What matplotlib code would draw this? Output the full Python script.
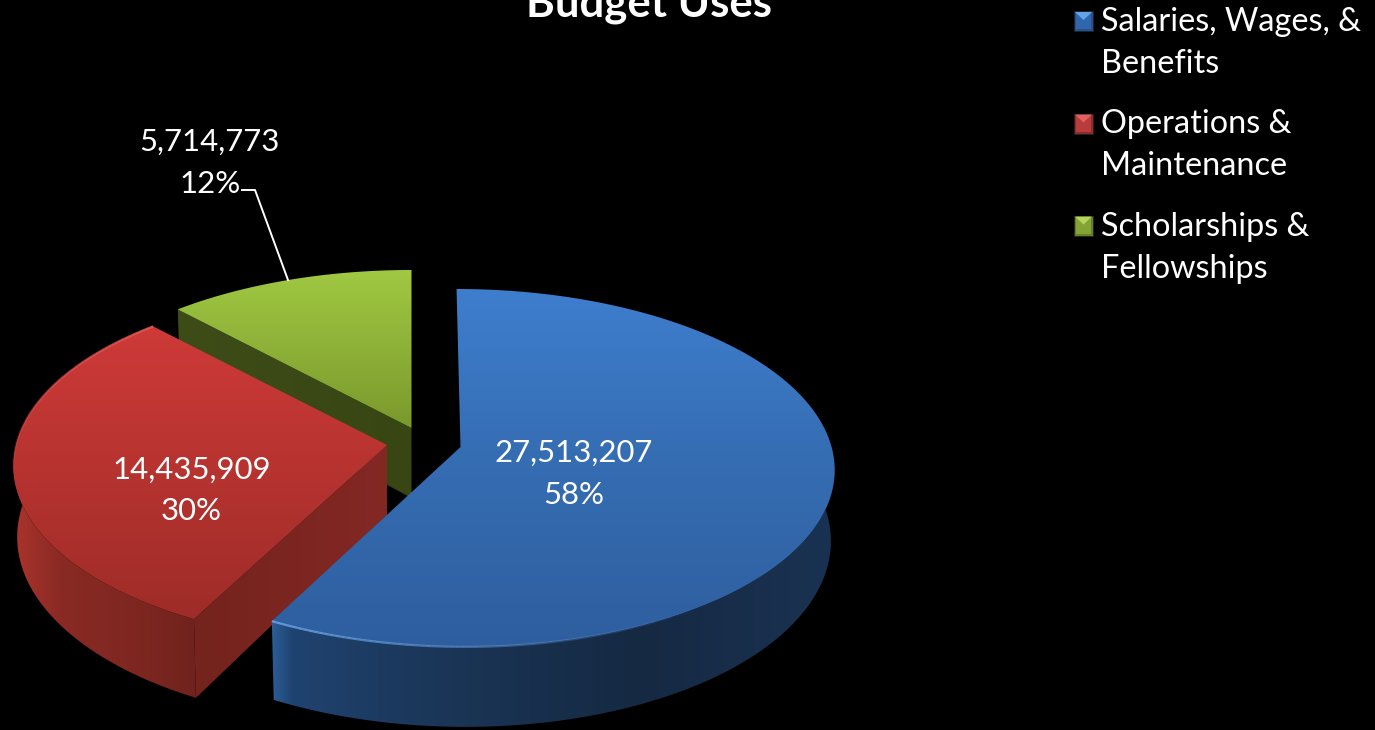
import matplotlib
matplotlib.use("Agg")
import matplotlib.pyplot as plt
import numpy as np
from matplotlib.collections import LineCollection
from matplotlib.patches import Polygon

plt.rcParams['font.family'] = ['Lato', 'DejaVu Sans']

title = 'Budget Uses'
categories = ['Salaries, Wages, &\nBenefits', 'Operations &\nMaintenance', 'Scholarships &\nFellowships']
values = [27513207, 14435909, 5714773]

#apex of each exploded slice on the canvas, and a slight sideways lean
apex_x = [460.5, 387, 411.5]
apex_y = [447, 445, 428]
lean = [0.025, 0, 0]

#tilted disc: radii, perspective strength, and how the lower face is scaled/shifted
rx, ry, persp = 371, 176.5, 0.117
low_sx, low_sy, low_dy = 0.99, 1.05, 70

#gradient stops for each slice (position, rgb)
top_colors = [
    [(289, (62, 126, 206)), (450, (54, 110, 180)), (650, (46, 94, 158))],
    [(327, (206, 58, 56)), (620, (158, 44, 40))],
    [(272, (160, 200, 66)), (430, (122, 152, 44))],
]
side_colors = [
    [(272, (42, 92, 150)), (292, (31, 67, 112)), (420, (27, 55, 90)), (640, (21, 41, 66)), (830, (26, 50, 82))],
    [(14, (170, 52, 44)), (60, (138, 42, 36)), (150, (124, 38, 32)), (200, (112, 34, 28))],
    [(180, (60, 74, 22)), (415, (60, 74, 22))],
]
cut_colors = [
    None,
    [(190, (116, 35, 29)), (390, (132, 40, 36))],
    [(175, (62, 76, 24)), (415, (56, 70, 20))],
]
rim_color = [(110, 165, 235), (235, 95, 90), (180, 215, 90)]
legend_dark = ['#24528f', '#8f2b2a', '#63802a']
legend_mid = ['#2f66ad', '#b83c3b', '#83a336']
legend_light = ['#62a4e6', '#e2605c', '#b4d65c']


def project(angle, cx, cy, shear=0, lower=False):
    #clockwise angle from 12 o'clock on the unit disc -> canvas pixels
    x = np.sin(angle)
    y = np.cos(angle)
    s = 1 / (1 + persp * y)
    py = -ry * y * s
    px = rx * x * s + shear * py
    if lower:
        return cx + low_sx * px, cy + low_dy + low_sy * py
    return cx + px, cy + py


def gradient_fill(ax, xs, ys, stops, vertical=True, zorder=1):
    pos = np.array([p for p, c in stops], dtype=float)
    cols = np.array([c for p, c in stops], dtype=float) / 255
    if vertical:
        lo, hi = ys.min(), ys.max()
    else:
        lo, hi = xs.min(), xs.max()
    t = np.linspace(lo, hi, 256)
    rgb = np.stack([np.interp(t, pos, cols[:, i]) for i in range(3)], axis=-1)
    rgb = rgb[:, None, :] if vertical else rgb[None, :, :]
    im = ax.imshow(rgb, extent=(xs.min(), xs.max(), ys.max(), ys.min()),
                   aspect='auto', interpolation='bilinear', zorder=zorder)
    patch = Polygon(np.column_stack([xs, ys]), closed=True, transform=ax.transData,
                    facecolor='none', edgecolor='none')
    ax.add_patch(patch)
    im.set_clip_path(patch)


fig = plt.figure(figsize=(13.75, 7.3), dpi=100, facecolor='black')
ax = fig.add_axes([0, 0, 1, 1])
ax.set_facecolor('black')

total = sum(values)
shares = np.array(values) / total
edges = np.concatenate([[0], np.cumsum(shares)]) * 2 * np.pi

#back to front: green, red, blue
for i in [2, 1, 0]:
    z = 10 + (2 - i) * 10
    cx, cy = apex_x[i], apex_y[i]
    ang = np.linspace(edges[i], edges[i + 1], 240)
    tx, ty = project(ang, cx, cy, lean[i])
    bx, by = project(ang, cx, cy, lean[i], lower=True)

    #outer wall, only the part that faces the viewer
    seen = np.cos(ang) < 0.6
    if seen.any():
        gradient_fill(ax, np.r_[tx[seen], bx[seen][::-1]], np.r_[ty[seen], by[seen][::-1]],
                      side_colors[i], vertical=False, zorder=z)

    #cut face seen from the front (blue's faces away)
    if cut_colors[i] is not None:
        qx = np.array([tx[0], cx, cx, bx[0]])
        qy = np.array([ty[0], cy, cy + low_dy, by[0]])
        gradient_fill(ax, qx, qy, cut_colors[i], vertical=False, zorder=z + 1)

    #top face
    fx = np.r_[cx, tx]
    fy = np.r_[cy, ty]
    gradient_fill(ax, fx, fy, top_colors[i], vertical=True, zorder=z + 2)

    #light bevel along the front rim, fading out going round
    if i < 2:
        front = np.linspace(edges[i + 1], edges[i + 1] - 1.1, 80)
        lx, ly = project(front, cx, cy, lean[i])
        pts = np.column_stack([lx, ly])
        segs = np.stack([pts[:-1], pts[1:]], axis=1)
        col = np.tile(np.array(rim_color[i]) / 255, (79, 1))
        alpha = np.linspace(0.85, 0, 79)[:, None]
        ax.add_collection(LineCollection(segs, colors=np.hstack([col, alpha]), linewidths=1.6, zorder=z + 3))

ax.text(649, 16, title, color='white', fontsize=31.5, fontweight='bold', ha='center', va='baseline', zorder=50)


def pct(v):
    return f'{v:,}\n{round(v / total * 100)}%'


label_style = dict(color='white', fontsize=22.4, ha='center', va='center', linespacing=1.59, zorder=50)
ax.text(573.5, 474, pct(values[0]), **label_style)
ax.text(191.5, 490.5, pct(values[1]), **label_style)
ax.text(210, 163, pct(values[2]), **label_style)

#leader line for the green slice
ax.plot([242, 255, 288], [190, 190, 280], color='white', lw=1.4, zorder=50)

#legend
legend_y = [21, 123.5, 225.5]
text_y = [43, 145, 248]
for i, name in enumerate(categories):
    y0 = legend_y[i] - 10
    y1 = legend_y[i] + 10
    x0, x1 = 1074, 1093
    xm = (x0 + x1) / 2
    ax.add_patch(Polygon([(x0, y0), (x1, y0), (x1, y1), (x0, y1)], facecolor=legend_dark[i], edgecolor='#222222', lw=0.6, zorder=50))
    ax.add_patch(Polygon([(x0 + 2, y0 + 2), (x1 - 2, y0 + 2), (x1 - 2, y1 - 2), (x0 + 2, y1 - 2)], facecolor=legend_mid[i], edgecolor='none', zorder=51))
    ax.add_patch(Polygon([(x0 + 1, y0 + 1), (x1 - 1, y0 + 1), (xm, y0 + 9)], facecolor=legend_light[i], edgecolor='none', zorder=52))
    ax.text(1101, text_y[i], name, color='white', fontsize=23.3, ha='left', va='center', linespacing=1.53, zorder=50)

ax.set_xlim(0, 1375)
ax.set_ylim(730, 0)
ax.axis('off')

plt.savefig('out.png', dpi=100, facecolor='black')
